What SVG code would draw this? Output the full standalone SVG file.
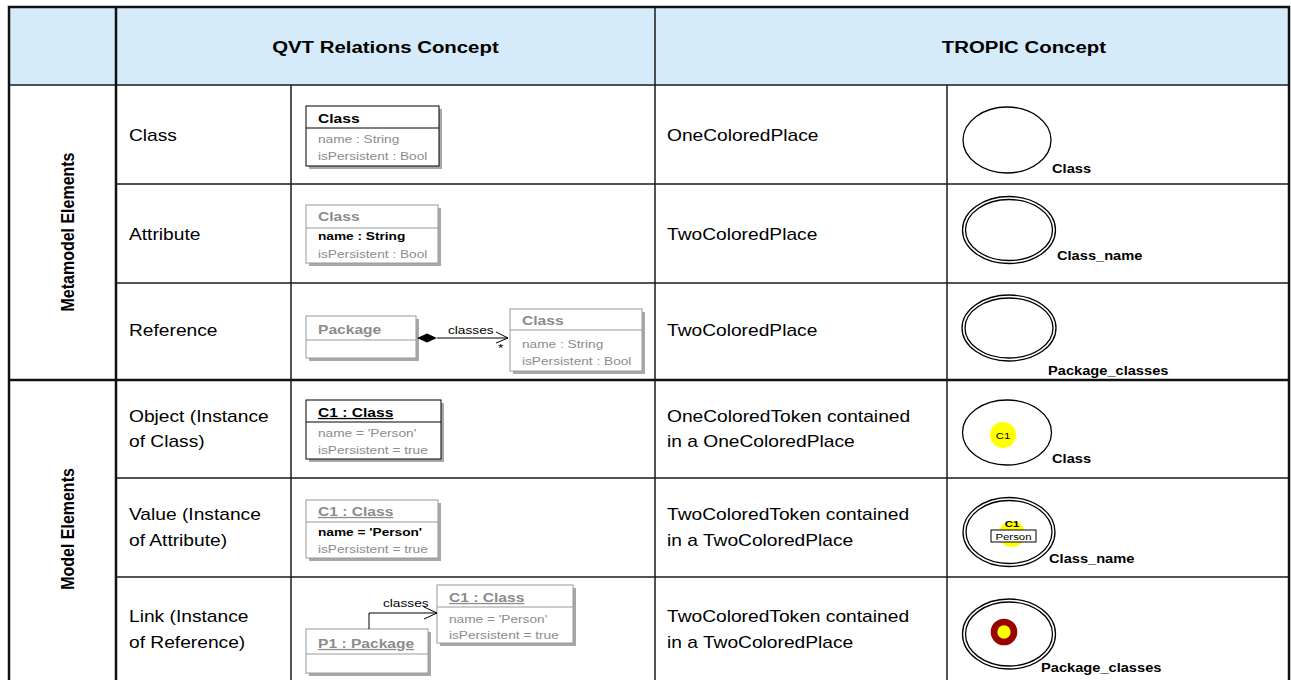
<svg xmlns="http://www.w3.org/2000/svg" width="1291" height="680" viewBox="0 0 1291 680">
  <style>
    /* all lettering is set slightly wide: natural height, 1.2x width */
    text{font-family:"Liberation Sans",Arial,Helvetica,sans-serif;fill:#000;
         transform-box:fill-box;transform-origin:0 50%;transform:scaleX(1.2)}
    .mid{transform-origin:50% 50%}
    .rot{transform-origin:50% 50%;transform:scaleY(1.2)}
    .cell{font-size:16px}
    .hdr{font-size:17px;font-weight:bold}
    .side{font-size:16px;font-weight:bold}
    .grid{stroke:#1a1a1a;stroke-width:1.5;fill:none}
    .heavy{stroke:#111;stroke-width:2.5;fill:none}
    .ttl{font-size:13px;font-weight:bold}
    .attr{font-size:11.4px}
    .dim{fill:#8c8c8c}
    .b{font-weight:bold}
    .u{text-decoration:underline}
    .box{fill:#fff;stroke:#000;stroke-width:1}
    .box.pale{stroke:#9a9a9a}
    .div{stroke:#000;stroke-width:1}
    .div.pale{stroke:#9a9a9a}
    .shadow{fill:#a8a8a8}
    .link{stroke:#000;stroke-width:1;fill:none}
    .place{fill:#fff;stroke:#000;stroke-width:1.3}
    .plabel{font-size:12.2px;font-weight:bold}
    .tok{font-size:9.5px}
  </style>

  <!-- header band -->
  <rect x="9" y="7" width="1280" height="78" fill="#d5ebf9"/>
  <text class="hdr mid" x="385.5" y="53" text-anchor="middle">QVT Relations Concept</text>
  <text class="hdr mid" x="1024" y="53" text-anchor="middle">TROPIC Concept</text>

  <!-- table grid -->
  <g id="grid">
    <line class="grid" x1="9" y1="85" x2="1289" y2="85"/>
    <line class="grid" x1="116" y1="184" x2="1289" y2="184"/>
    <line class="grid" x1="116" y1="283" x2="1289" y2="283"/>
    <line class="heavy" x1="9" y1="380" x2="1289" y2="380"/>
    <line class="grid" x1="116" y1="478" x2="1289" y2="478"/>
    <line class="grid" x1="116" y1="577" x2="1289" y2="577"/>
    <line class="heavy" x1="116" y1="7" x2="116" y2="680" stroke-width="2"/>
    <line class="grid" x1="291" y1="85" x2="291" y2="680"/>
    <line class="grid" x1="655" y1="7" x2="655" y2="680"/>
    <line class="grid" x1="947" y1="85" x2="947" y2="680"/>
    <rect class="heavy" x="9" y="7" width="1280" height="676" stroke-width="3"/>
  </g>

  <!-- section captions -->
  <g transform="translate(73 232) rotate(-90)">
    <text class="side rot" x="0" y="0" text-anchor="middle">Metamodel Elements</text>
  </g>
  <g transform="translate(73 529) rotate(-90)">
    <text class="side rot" x="0" y="0" text-anchor="middle">Model Elements</text>
  </g>

  <!-- concept names -->
  <g id="names" class="cell">
    <text x="129" y="141">Class</text>
    <text x="129" y="240">Attribute</text>
    <text x="129" y="336">Reference</text>
    <text x="129" y="422">Object (Instance</text>
    <text x="129" y="447">of Class)</text>
    <text x="129" y="520">Value (Instance</text>
    <text x="129" y="546">of Attribute)</text>
    <text x="129" y="622">Link (Instance</text>
    <text x="129" y="648">of Reference)</text>
    <text x="667" y="141">OneColoredPlace</text>
    <text x="667" y="240">TwoColoredPlace</text>
    <text x="667" y="336">TwoColoredPlace</text>
    <text x="667" y="422">OneColoredToken contained</text>
    <text x="667" y="447">in a OneColoredPlace</text>
    <text x="667" y="520">TwoColoredToken contained</text>
    <text x="667" y="546">in a TwoColoredPlace</text>
    <text x="667" y="622">TwoColoredToken contained</text>
    <text x="667" y="648">in a TwoColoredPlace</text>
  </g>

  <!-- UML: class -->
  <g id="uml-class">
    <rect class="shadow" x="309" y="109" width="133" height="60"/>
    <rect class="box" x="306" y="106" width="133" height="60"/>
    <line class="div" x1="306" y1="128" x2="439" y2="128"/>
    <text class="ttl" x="318" y="123">Class</text>
    <text class="attr dim" x="318" y="143">name : String</text>
    <text class="attr dim" x="318" y="160">isPersistent : Bool</text>
  </g>

  <!-- UML: attribute -->
  <g id="uml-attribute">
    <rect class="shadow" x="309" y="208" width="132" height="58"/>
    <rect class="box pale" x="306" y="205" width="132" height="58"/>
    <line class="div pale" x1="306" y1="228" x2="438" y2="228"/>
    <text class="ttl dim" x="318" y="221">Class</text>
    <text class="attr b" x="318" y="240">name : String</text>
    <text class="attr dim" x="318" y="258">isPersistent : Bool</text>
  </g>

  <!-- UML: reference -->
  <g id="uml-package">
    <rect class="shadow" x="309" y="319" width="110" height="42"/>
    <rect class="box pale" x="306" y="316" width="110" height="42"/>
    <line class="div pale" x1="306" y1="340" x2="416" y2="340"/>
    <text class="ttl dim" x="318" y="334">Package</text>
  </g>
  <g id="uml-ref-class">
    <rect class="shadow" x="513" y="312" width="132" height="62"/>
    <rect class="box pale" x="510" y="309" width="132" height="62"/>
    <line class="div pale" x1="510" y1="330" x2="642" y2="330"/>
    <text class="ttl dim" x="522" y="325">Class</text>
    <text class="attr dim" x="522" y="348">name : String</text>
    <text class="attr dim" x="522" y="365">isPersistent : Bool</text>
  </g>

  <!-- UML: object -->
  <g id="uml-object">
    <rect class="shadow" x="309" y="403" width="135" height="59"/>
    <rect class="box" x="306" y="400" width="135" height="59"/>
    <line class="div" x1="306" y1="422" x2="441" y2="422"/>
    <text class="ttl u" x="318" y="417">C1 : Class</text>
    <text class="attr dim" x="318" y="437">name = 'Person'</text>
    <text class="attr dim" x="318" y="454">isPersistent = true</text>
  </g>

  <!-- UML: value -->
  <g id="uml-value">
    <rect class="shadow" x="309" y="503" width="132" height="58"/>
    <rect class="box pale" x="306" y="500" width="132" height="58"/>
    <line class="div pale" x1="306" y1="522" x2="438" y2="522"/>
    <text class="ttl dim u" x="318" y="516">C1 : Class</text>
    <text class="attr b" x="318" y="536">name = 'Person'</text>
    <text class="attr dim" x="318" y="553">isPersistent = true</text>
  </g>

  <!-- UML: link -->
  <g id="uml-link-class">
    <rect class="shadow" x="440" y="588" width="136" height="58"/>
    <rect class="box pale" x="437" y="585" width="136" height="58"/>
    <line class="div pale" x1="437" y1="607" x2="573" y2="607"/>
    <text class="ttl dim u" x="449" y="602">C1 : Class</text>
    <text class="attr dim" x="449" y="623">name = 'Person'</text>
    <text class="attr dim" x="449" y="639">isPersistent = true</text>
  </g>
  <g id="uml-link-package">
    <rect class="shadow" x="309" y="632" width="122" height="44"/>
    <rect class="box pale" x="306" y="629" width="122" height="44"/>
    <line class="div pale" x1="306" y1="654" x2="428" y2="654"/>
    <text class="ttl dim u" x="318" y="648">P1 : Package</text>
  </g>

  <!-- UML connectors -->
  <g id="connectors">
    <polygon points="417,338 427,333.5 437,338 427,342.5" fill="#000"/>
    <line class="link" x1="437" y1="338" x2="508" y2="338"/>
    <polyline class="link" points="496,332 508,338 496,343"/>
    <text class="attr" x="448" y="334">classes</text>
    <text class="attr" x="498" y="352">*</text>

    <polyline class="link" points="369,629 369,613 437,613"/>
    <polyline class="link" points="424,607 437,613 424,619"/>
    <text class="attr" x="383" y="607">classes</text>
  </g>

  <!-- places -->
  <g id="place-class">
    <ellipse class="place" cx="1007" cy="140" rx="44" ry="33"/>
    <text class="plabel" x="1052" y="173">Class</text>
  </g>
  <g id="place-class-name">
    <ellipse class="place" cx="1009" cy="230" rx="46.5" ry="33.5"/>
    <ellipse class="place" cx="1009" cy="230" rx="43.5" ry="30.5"/>
    <text class="plabel" x="1057" y="260">Class_name</text>
  </g>
  <g id="place-package-classes">
    <ellipse class="place" cx="1009" cy="328" rx="47" ry="33"/>
    <ellipse class="place" cx="1009" cy="328" rx="44" ry="30"/>
    <text class="plabel" x="1048" y="375">Package_classes</text>
  </g>
  <g id="place-class-token">
    <ellipse class="place" cx="1007" cy="432.5" rx="44.5" ry="32.5"/>
    <circle cx="1003" cy="435" r="13" fill="#ffff00"/>
    <text class="tok mid" x="1003" y="439" text-anchor="middle">C1</text>
    <text class="plabel" x="1052" y="463">Class</text>
  </g>
  <g id="place-class-name-token">
    <ellipse class="place" cx="1009" cy="532" rx="46" ry="34.5"/>
    <ellipse class="place" cx="1009" cy="532" rx="43" ry="31.5"/>
    <circle cx="1012" cy="534" r="13" fill="#ffff00"/>
    <text class="tok b mid" x="1012" y="527" text-anchor="middle">C1</text>
    <rect x="991" y="530" width="45" height="12" fill="#fff" stroke="#000" stroke-width="1"/>
    <text class="tok mid" x="1013.5" y="540" text-anchor="middle" font-size="10">Person</text>
    <text class="plabel" x="1049" y="563">Class_name</text>
  </g>
  <g id="place-package-classes-token">
    <ellipse class="place" cx="1009" cy="634" rx="46.5" ry="35"/>
    <ellipse class="place" cx="1009" cy="634" rx="43.5" ry="32"/>
    <circle cx="1004" cy="632" r="13.3" fill="#990000"/>
    <circle cx="1004" cy="632" r="6.7" fill="#ffff00"/>
    <text class="plabel" x="1041" y="672">Package_classes</text>
  </g>
</svg>
